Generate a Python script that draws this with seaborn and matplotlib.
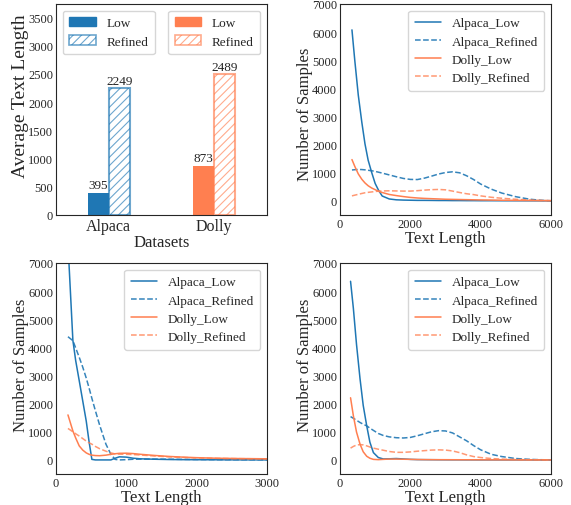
import pandas as pd
import seaborn as sns
import matplotlib.pyplot as plt
from matplotlib.colors import to_rgb
from matplotlib.patches import Patch

# Bar chart data
datasets = ["Alpaca", "Dolly"]
low_lengths = [395, 873]
refined_lengths = [2249, 2489]

# Top-right panel
b_x = [340, 420, 520, 620, 710, 800, 900, 1000, 1100, 1200, 1400, 1600, 1800, 2000, 2200,
       2400, 2600, 2800, 3000, 3200, 3400, 3600, 3800, 4000, 4300, 4600, 5000, 5400, 5700, 6000]
b_alpaca_low = [6080, 5000, 3760, 2800, 2030, 1450, 1015, 620, 370, 175, 70, 40, 30, 25, 20,
                20, 18, 15, 15, 12, 12, 10, 10, 8, 8, 6, 5, 4, 3, 2]
b_alpaca_refined = [1100, 1110, 1120, 1115, 1105, 1090, 1073, 1050, 1020, 990, 925, 860, 800, 765, 760,
                    810, 880, 955, 1010, 1035, 1000, 895, 760, 600, 420, 280, 150, 60, 25, 5]
b_dolly_low = [1470, 1230, 960, 770, 640, 540, 460, 400, 340, 300, 230, 190, 155, 125, 105,
               90, 80, 70, 60, 55, 50, 45, 40, 35, 30, 25, 20, 15, 12, 10]
b_dolly_refined = [180, 205, 235, 265, 290, 305, 320, 335, 348, 355, 360, 355, 350, 350, 365,
                   385, 400, 408, 395, 350, 300, 255, 225, 180, 130, 95, 60, 30, 18, 10]

# Bottom-left panel
c_x = [170, 240, 280, 330, 380, 430, 470, 510, 560, 620, 710, 780, 840, 900, 1000, 1100,
       1200, 1400, 1600, 1800, 2000, 2300, 2600, 3000]
c_alpaca_low = [7700, 4250, 3530, 2820, 2100, 1380, 650, 20, 0, 0, 0, 0, 60, 110, 100, 60,
                40, 25, 15, 10, 8, 5, 3, 2]
c_alpaca_refined = [4380, 4240, 3980, 3650, 3300, 2910, 2560, 2190, 1750, 1240, 560, 200, 20, 0, 10, 25,
                    30, 30, 25, 20, 15, 10, 8, 5]
c_dolly_low = [1600, 1030, 780, 500, 350, 250, 200, 170, 155, 150, 170, 200, 220, 235, 240, 225,
               200, 160, 125, 100, 80, 60, 50, 40]
c_dolly_refined = [1120, 1000, 930, 850, 760, 670, 610, 560, 480, 400, 310, 250, 215, 205, 200, 190,
                   175, 140, 110, 90, 70, 55, 45, 38]

# Bottom-right panel
d_x = [300, 380, 470, 570, 660, 760, 850, 950, 1090, 1230, 1400, 1600, 1800, 2000, 2200,
       2400, 2600, 2800, 3000, 3200, 3400, 3600, 3800, 4000, 4300, 4600, 5000, 5400, 5700, 6000]
d_alpaca_low = [6350, 5390, 4100, 2880, 1940, 1210, 630, 260, 85, 35, 40, 50, 35, 20, 12,
                10, 8, 6, 5, 4, 4, 3, 3, 2, 2, 1, 1, 0, 0, 0]
d_alpaca_refined = [1540, 1480, 1410, 1330, 1270, 1210, 1130, 1050, 940, 870, 820, 790, 780, 800, 860,
                    930, 1000, 1040, 1030, 960, 820, 680, 510, 360, 200, 120, 50, 20, 8, 2]
d_dolly_low = [2210, 1570, 990, 560, 290, 130, 60, 20, 10, 20, 30, 30, 25, 20, 15,
               12, 10, 9, 8, 7, 6, 6, 5, 5, 4, 3, 2, 1, 1, 0]
d_dolly_refined = [420, 480, 530, 545, 535, 500, 460, 420, 380, 345, 300, 270, 270, 285, 310,
                   330, 350, 358, 350, 320, 260, 180, 120, 85, 50, 30, 15, 8, 4, 1]

BLUE = "#1f77b4"
CORAL = "#FF7F50"

sns.set_style("white")
plt.rcParams["font.family"] = ["Liberation Serif", "DejaVu Serif"]
plt.rcParams["hatch.linewidth"] = 0.8

fig, axes = plt.subplots(2, 2, figsize=(5.71, 5.06), dpi=100)
W, H = 571, 506
pos = {(0, 0): (56, 5), (0, 1): (340, 5), (1, 0): (56, 264), (1, 1): (340, 264)}
for (r, c), (px, py) in pos.items():
    axes[r, c].set_position([px / W, 1 - (py + 211) / H, 211 / W, 211 / H])

# ---- Bar chart ----
ax = axes[0, 0]
bar_df = pd.DataFrame({
    "Dataset": datasets * 2,
    "Type": ["Low"] * 2 + ["Refined"] * 2,
    "Length": low_lengths + refined_lengths,
})
sns.barplot(data=bar_df, x="Dataset", y="Length", hue="Type", width=0.4,
            legend=False, ax=ax, saturation=1)
colors = [BLUE, CORAL]
for i, patch in enumerate(ax.patches[:4]):
    col = colors[i % 2]
    if i < 2:
        patch.set_facecolor(col)
        patch.set_edgecolor(col)
        patch.set_linewidth(0)
    else:
        patch.set_facecolor("white")
        patch.set_edgecolor((*to_rgb(col), 0.65))
        patch.set_hatch("////")
        patch.set_linewidth(1.5)
for cont in ax.containers:
    ax.bar_label(cont, fmt="%d", padding=1, fontsize=9.5)
ax.set_ylim(0, 3735)
ax.set_xlim(-0.5, 1.5)
ax.set_xlabel("Datasets", fontsize=12, labelpad=0)
ax.set_ylabel("Average Text Length", fontsize=14)
ax.yaxis.set_label_coords(-0.13, 0.57)
ax.tick_params(axis="x", labelsize=11.5, length=0, pad=2)
ax.tick_params(axis="y", labelsize=9, length=0, pad=2)

leg_kw = dict(fontsize=9.5, labelspacing=0.45, handlelength=2.0, borderpad=0.5)
h1 = [Patch(facecolor=BLUE, edgecolor=BLUE),
      Patch(facecolor="white", edgecolor=(*to_rgb(BLUE), 0.65), hatch="////", linewidth=1.2)]
h2 = [Patch(facecolor=CORAL, edgecolor=CORAL),
      Patch(facecolor="white", edgecolor=(*to_rgb(CORAL), 0.65), hatch="////", linewidth=1.2)]
leg1 = ax.legend(h1, ["Low", "Refined"], loc="upper left", **leg_kw)
ax.add_artist(leg1)
ax.legend(h2, ["Low", "Refined"], loc="upper right", **leg_kw)

# ---- Line charts ----
panels = [
    (axes[0, 1], b_x, b_alpaca_low, b_alpaca_refined, b_dolly_low, b_dolly_refined, 6000, 0.48),
    (axes[1, 0], c_x, c_alpaca_low, c_alpaca_refined, c_dolly_low, c_dolly_refined, 3000, 0.52),
    (axes[1, 1], d_x, d_alpaca_low, d_alpaca_refined, d_dolly_low, d_dolly_refined, 6000, 0.52),
]
for ax, xs, al, ar, dl, dr, xmax, ly in panels:
    df = pd.DataFrame({"x": xs, "Alpaca_Low": al, "Alpaca_Refined": ar,
                       "Dolly_Low": dl, "Dolly_Refined": dr})
    sns.lineplot(data=df, x="x", y="Alpaca_Low", color=BLUE, lw=1.1, label="Alpaca_Low", ax=ax)
    sns.lineplot(data=df, x="x", y="Alpaca_Refined", color=BLUE, lw=1.1, ls="--", alpha=0.9,
                 label="Alpaca_Refined", ax=ax)
    sns.lineplot(data=df, x="x", y="Dolly_Low", color=CORAL, lw=1.1, label="Dolly_Low", ax=ax)
    sns.lineplot(data=df, x="x", y="Dolly_Refined", color=CORAL, lw=1.1, ls="--", alpha=0.8,
                 label="Dolly_Refined", ax=ax)
    ax.set_xlim(0, xmax)
    ax.set_ylim(-500, 7000)
    ax.set_xlabel("Text Length", fontsize=12, labelpad=0)
    ax.set_ylabel("Number of Samples", fontsize=12)
    ax.yaxis.set_label_coords(-0.13, ly)
    ax.tick_params(axis="both", labelsize=9, length=0, pad=2)
    ax.legend(loc="upper right", fontsize=9.5, labelspacing=0.45, handlelength=2.0, borderpad=0.5)

fig.savefig("out.png", dpi=100)
